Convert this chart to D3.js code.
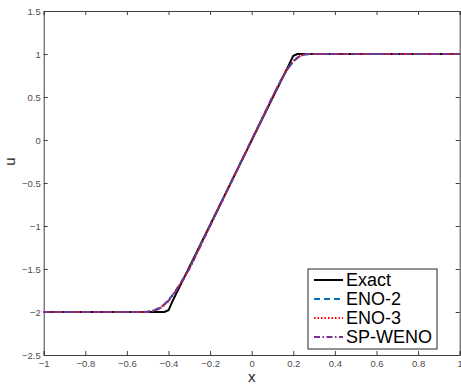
<!DOCTYPE html>
<html>
<head>
<meta charset="utf-8">
<script src="https://cdn.jsdelivr.net/npm/d3@7/dist/d3.min.js"></script>
<style>
  body { margin: 0; background: #fff; }
  text { font-family: "Liberation Sans", Arial, sans-serif; }
</style>
</head>
<body>
<div id="chart"></div>
<script>
// exact solution
const exactX = [-1, -0.42, -0.4, -0.38, 0.18, 0.2, 0.22, 1];
const exactU = [-2, -2, -1.98, -1.87, 0.88, 0.98, 1, 1];

// numerical solutions
const numX = [-1, -0.52, -0.5, -0.48, -0.46, -0.44, -0.42, -0.4, -0.38, -0.36, -0.34, -0.32, -0.3,
  0.1, 0.12, 0.14, 0.16, 0.18, 0.2, 0.22, 0.24, 0.26, 0.28, 1];
const eno2U = [-2, -2, -1.995, -1.985, -1.97, -1.945, -1.91, -1.86, -1.8, -1.73, -1.655, -1.575, -1.49,
  0.5, 0.595, 0.69, 0.775, 0.85, 0.91, 0.955, 0.985, 0.997, 1, 1];
const eno3U = [-2, -2, -2, -1.99, -1.975, -1.95, -1.915, -1.865, -1.805, -1.735, -1.66, -1.58, -1.495,
  0.5, 0.595, 0.69, 0.78, 0.855, 0.915, 0.96, 0.985, 0.997, 1, 1];
const spwenoU = [-2, -2, -2, -1.99, -1.978, -1.955, -1.92, -1.87, -1.81, -1.74, -1.665, -1.583, -1.5,
  0.5, 0.597, 0.692, 0.78, 0.855, 0.915, 0.958, 0.984, 0.996, 1, 1];

const xTicks = [-1, -0.8, -0.6, -0.4, -0.2, 0, 0.2, 0.4, 0.6, 0.8, 1];
const yTicks = [-2.5, -2, -1.5, -1, -0.5, 0, 0.5, 1, 1.5];

const seriesNames = ['Exact', 'ENO-2', 'ENO-3', 'SP-WENO'];

const W = 461, H = 385;
const margin = { top: 11, right: 1.3, bottom: 30, left: 43.7 },
  width = W - margin.left - margin.right,
  height = H - margin.top - margin.bottom;

const xScale = d3.scaleLinear().domain([-1, 1]).range([0, width]);
const yScale = d3.scaleLinear().domain([-2.5, 1.5]).range([height, 0]);

const svg = d3.select('#chart')
  .append('svg')
  .attr('width', W)
  .attr('height', H)
  .append('g')
  .attr('transform', 'translate(' + margin.left + ',' + margin.top + ')');

const fmt = d => d3.format('')(d);

// axes, ticks inward like matlab
const axisColor = '#404040';
const xAxisB = d3.axisBottom(xScale).tickValues(xTicks).tickSize(-4).tickPadding(5).tickFormat(fmt);
const xAxisT = d3.axisTop(xScale).tickValues(xTicks).tickSize(-4).tickFormat('');
const yAxisL = d3.axisLeft(yScale).tickValues(yTicks).tickSize(-4).tickPadding(3).tickFormat(fmt);
const yAxisR = d3.axisRight(yScale).tickValues(yTicks).tickSize(-4).tickFormat('');

function styleAxis(g) {
  g.select('.domain').attr('stroke', axisColor).attr('stroke-width', 1);
  g.selectAll('.tick line').attr('stroke', axisColor);
  g.selectAll('.tick text')
    .attr('fill', '#4d4d4d')
    .style('font-size', '9.5px')
    .style('font-family', '"Liberation Sans", Arial, sans-serif');
}

svg.append('g').attr('transform', 'translate(0,' + height + ')').call(xAxisB).call(styleAxis);
svg.append('g').call(xAxisT).call(styleAxis);
svg.append('g').call(yAxisL).call(styleAxis);
svg.append('g').attr('transform', 'translate(' + width + ',0)').call(yAxisR).call(styleAxis);

// lines
const line = d3.line()
  .x(d => xScale(d[0]))
  .y(d => yScale(d[1]));

const series = [
  { name: seriesNames[0], xs: exactX, ys: exactU, color: '#000000', dash: null, w: 2 },
  { name: seriesNames[1], xs: numX, ys: eno2U, color: '#0072BD', dash: '6,4', w: 2 },
  { name: seriesNames[2], xs: numX, ys: eno3U, color: '#FF0000', dash: '1.5,2', w: 2 },
  { name: seriesNames[3], xs: numX, ys: spwenoU, color: '#7E2F8E', dash: '6,2.5,1.5,2.5', w: 2 }
];

series.forEach(s => {
  svg.append('path')
    .datum(s.xs.map((x, i) => [x, s.ys[i]]))
    .attr('fill', 'none')
    .attr('stroke', s.color)
    .attr('stroke-width', s.w)
    .attr('stroke-dasharray', s.dash)
    .attr('d', line);
});

// axis labels
svg.append('text')
  .attr('x', xScale(0))
  .attr('y', height + 27)
  .attr('text-anchor', 'middle')
  .style('font-size', '15px')
  .attr('fill', '#262626')
  .text('x');

svg.append('text')
  .attr('transform', 'translate(' + (-29) + ',' + yScale(-0.25) + ') rotate(-90)')
  .attr('text-anchor', 'middle')
  .style('font-size', '15px')
  .attr('fill', '#262626')
  .text('u');

// legend
const legend = svg.append('g')
  .attr('transform', 'translate(' + (308 - margin.left) + ',' + (269 - margin.top) + ')');

legend.append('rect')
  .attr('width', 129)
  .attr('height', 80)
  .attr('fill', '#fff')
  .attr('stroke', '#262626')
  .attr('stroke-width', 1);

series.forEach((s, i) => {
  const yb = 17 + i * 19;
  legend.append('line')
    .attr('x1', 6).attr('x2', 35)
    .attr('y1', yb - 6).attr('y2', yb - 6)
    .attr('stroke', s.color)
    .attr('stroke-width', s.w)
    .attr('stroke-dasharray', s.dash);
  legend.append('text')
    .attr('x', 38)
    .attr('y', yb)
    .style('font-size', '18px')
    .attr('fill', '#000')
    .text(s.name);
});
</script>
</body>
</html>
